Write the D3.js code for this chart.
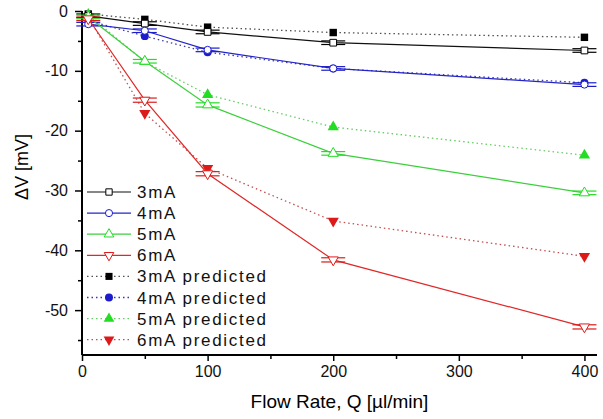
<!DOCTYPE html>
<html>
<head>
<meta charset="utf-8">
<script src="https://cdn.jsdelivr.net/npm/d3@7"></script>
<style>
  body { margin: 0; background: #fff; }
  svg { font-family: "Liberation Sans", Arial, sans-serif; }
</style>
</head>
<body>
<svg width="603" height="419"></svg>
<script>
var flowRates = [5, 50, 100, 200, 400];

var meas3 = [-0.8, -2.1, -3.5, -5.3, -6.6];
var meas4 = [-2.2, -3.3, -6.5, -9.6, -12.3];
var meas5 = [-1.0, -8.4, -15.7, -23.8, -30.4];
var meas6 = [-1.3, -14.9, -27.2, -41.6, -52.8];

var err3 = [0.3, 0.3, 0.3, 0.3, 0.3];
var err4 = [0.3, 0.3, 0.3, 0.3, 0.3];
var err5 = [0.3, 0.3, 0.35, 0.3, 0.3];
var err6 = [0.3, 0.35, 0.35, 0.35, 0.35];

var pred3 = [-0.5, -1.4, -2.7, -3.6, -4.4];
var pred4 = [-1.6, -4.2, -6.9, -9.6, -12.0];
var pred5 = [-0.6, -8.5, -14.0, -19.4, -24.1];
var pred6 = [-1.0, -17.1, -26.3, -35.1, -41.0];

var seriesNames = ["3mA", "4mA", "5mA", "6mA",
  "3mA predicted", "4mA predicted", "5mA predicted", "6mA predicted"];
var xTicks = [0, 100, 200, 300, 400];
var yTicks = [0, -10, -20, -30, -40, -50];

var colors = ["#111111", "#2424c8", "#3ccf3c", "#e02828"];
var predColors = ["#505050", "#3a3aa8", "#66cc66", "#c05050"];
var markColors = ["#000000", "#1c1ccc", "#22dd22", "#dd1a1a"];
var shapes = [d3.symbolSquare, d3.symbolCircle, d3.symbolTriangle, d3.symbolTriangle];
var rotations = [0, 0, 0, 180];

var plotLeft = 82, plotRight = 597, plotTop = 11, plotBottom = 355;
var svg = d3.select("svg");

var x = d3.scaleLinear().domain([0, 410]).range([plotLeft, plotRight]);
var y = d3.scaleLinear().domain([-57.5, 0]).range([plotBottom, plotTop]);

// plain hyphen for negatives, like the original
var fmt = function(d) { return String(d); };

// axes
var xAxis = d3.axisBottom(x).tickValues(xTicks).tickSize(6).tickPadding(5).tickFormat(fmt);
var yAxis = d3.axisLeft(y).tickValues(yTicks).tickSize(7).tickPadding(7).tickFormat(fmt);

var gx = svg.append("g").attr("transform", "translate(0," + plotBottom + ")").call(xAxis);
var gy = svg.append("g").attr("transform", "translate(" + plotLeft + ",0)").call(yAxis);

svg.append("g").attr("transform", "translate(0," + plotBottom + ")")
  .call(d3.axisBottom(x).tickValues([50, 150, 250, 350]).tickSize(4).tickFormat(""))
  .select(".domain").remove();
svg.append("g").attr("transform", "translate(" + plotLeft + ",0)")
  .call(d3.axisLeft(y).tickValues([-5, -15, -25, -35, -45, -55]).tickSize(4).tickFormat(""))
  .select(".domain").remove();

gx.select(".domain").attr("d", "M" + plotLeft + ",0H" + plotRight).attr("stroke-width", 2);
gy.select(".domain").attr("d", "M0," + plotTop + "V" + plotBottom).attr("stroke-width", 2);
svg.selectAll(".tick line").attr("stroke-width", 1.5);
svg.selectAll(".tick text").attr("font-size", 16).attr("fill", "#111");

svg.append("text")
  .attr("x", (plotLeft + plotRight) / 2).attr("y", 408)
  .attr("text-anchor", "middle").attr("font-size", 19)
  .text("Flow Rate, Q [\u00b5l/min]");

svg.append("text")
  .attr("transform", "translate(28,167) rotate(-90)")
  .attr("text-anchor", "middle").attr("font-size", 18)
  .text("\u0394V [mV]");

var measured = [meas3, meas4, meas5, meas6];
var errors = [err3, err4, err5, err6];
var predicted = [pred3, pred4, pred5, pred6];

var line = d3.line()
  .x(function(d) { return x(d[0]); })
  .y(function(d) { return y(d[1]); });

function pairs(vals) {
  return vals.map(function(v, i) { return [flowRates[i], v]; });
}

function symbolPath(i, size) {
  return d3.symbol().type(shapes[i]).size(size)();
}

// predicted (dotted + filled)
predicted.forEach(function(vals, i) {
  svg.append("path")
    .attr("d", line(pairs(vals)))
    .attr("fill", "none")
    .attr("stroke", predColors[i])
    .attr("stroke-width", 1.3)
    .attr("stroke-dasharray", "1.5,3");
  svg.selectAll(".pm" + i)
    .data(pairs(vals))
    .enter().append("path")
    .attr("transform", function(d) {
      return "translate(" + x(d[0]) + "," + y(d[1]) + ") rotate(" + rotations[i] + ")";
    })
    .attr("d", symbolPath(i, i === 1 ? 50 : 55))
    .attr("fill", markColors[i]);
});

// measured (solid + open + error caps)
measured.forEach(function(vals, i) {
  svg.append("path")
    .attr("d", line(pairs(vals)))
    .attr("fill", "none")
    .attr("stroke", colors[i])
    .attr("stroke-width", 1.2);
  var g = svg.append("g");
  pairs(vals).forEach(function(d, j) {
    var cx = x(d[0]), e = errors[i][j];
    [d[1] + e, d[1] - e].forEach(function(v) {
      g.append("line")
        .attr("x1", cx - 12).attr("x2", cx + 12)
        .attr("y1", y(v)).attr("y2", y(v))
        .attr("stroke", markColors[i]).attr("stroke-width", 1.2);
    });
    g.append("line")
      .attr("x1", cx).attr("x2", cx)
      .attr("y1", y(d[1] + e)).attr("y2", y(d[1] - e))
      .attr("stroke", markColors[i]).attr("stroke-width", 1.2);
    g.append("path")
      .attr("transform", "translate(" + cx + "," + y(d[1]) + ") rotate(" + rotations[i] + ")")
      .attr("d", symbolPath(i, i === 1 ? 40 : 45))
      .attr("fill", "#fff")
      .attr("stroke", markColors[i])
      .attr("stroke-width", 1);
  });
});

// legend
var legend = svg.append("g");
seriesNames.forEach(function(name, k) {
  var i = k % 4, pred = k >= 4;
  var ly = 192 + k * 21.1;
  legend.append("line")
    .attr("x1", 87).attr("x2", 131).attr("y1", ly).attr("y2", ly)
    .attr("stroke", pred ? predColors[i] : colors[i])
    .attr("stroke-width", pred ? 1.3 : 1.2)
    .attr("stroke-dasharray", pred ? "1.5,3" : null);
  legend.append("path")
    .attr("transform", "translate(109," + ly + ") rotate(" + rotations[i] + ")")
    .attr("d", symbolPath(i, pred ? 50 : 40))
    .attr("fill", pred ? markColors[i] : "#fff")
    .attr("stroke", pred ? "none" : markColors[i]);
  legend.append("text")
    .attr("x", 137).attr("y", ly + 6)
    .attr("font-size", 17)
    .attr("letter-spacing", 1.7)
    .attr("fill", "#111")
    .text(name);
});
</script>
</body>
</html>
